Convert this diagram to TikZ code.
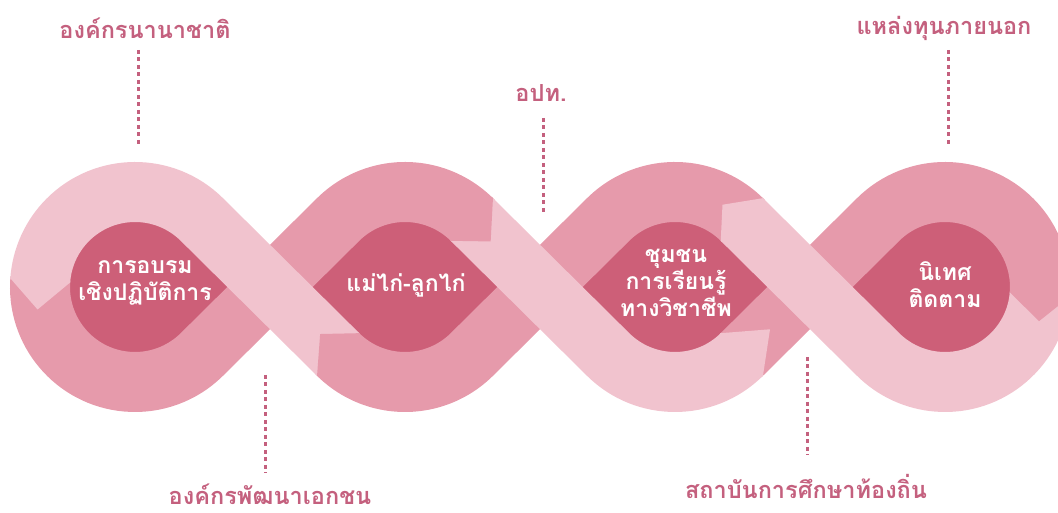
\documentclass[tikz,border=0pt]{standalone}
\usepackage{fontspec}
\newfontfamily\thai[Script=Thai]{Loma}
\definecolor{lightp}{HTML}{F1C3CE}
\definecolor{midp}{HTML}{E69AAB}
\definecolor{darkp}{HTML}{CD5F78}
\definecolor{rose}{HTML}{C4607E}
% #1 centre, #2 body end angle, #3 back angle, #4 apex angle, #5 apex radius, #6 colour
\newcommand\ribtip[6]{\fill[#6] ([shift={(#3:125)}]#1) -- ([shift={(#2:125)}]#1) -- ([shift={(#4:#5)}]#1) -- ([shift={(#2:65)}]#1) -- ([shift={(#3:65)}]#1) -- cycle;}
\begin{document}
\begin{tikzpicture}[x=1pt,y=1pt,
  band/.style={line width=60pt, line cap=butt},
  lightband/.style={band, draw=lightp},
  midband/.style={band, draw=midp},
  dots/.style={draw=rose, line width=3pt, dash pattern=on 4pt off 3.5pt},
  outlabel/.style={text=rose, font=\thai\fontsize{23.5}{26}\selectfont\bfseries, inner sep=0pt},
  inlabel/.style={text=white, font=\thai\fontsize{23}{27}\selectfont\bfseries, align=center, inner sep=0pt}]
\useasboundingbox (0,0) rectangle (1058,513);
\clip (0,0) rectangle (1058,513);
\coordinate (c1) at (135,226);
\coordinate (c2) at (405,226);
\coordinate (c3) at (675,226);
\coordinate (c4) at (945,226);
% dark holes
\fill[darkp] (135,188) rectangle (945,264);
\foreach \c in {c1,c2,c3,c4} \fill[darkp] (\c) circle[radius=72];
% medium bodies
\draw[midband] ([shift={(175:95)}]c1) arc[start angle=175,end angle=314.72,radius=95] -- (338.15,293.5) arc[start angle=134.72,end angle=44,radius=95];
\draw[midband] (740.4,157.1) -- (878.15,293.5) arc[start angle=134.72,end angle=-5.5,radius=95];
\draw[midband] ([shift={(44:95)}]c3) arc[start angle=44,end angle=134.72,radius=95] -- (471.85,158.5) arc[start angle=314.72,end angle=224,radius=95];
% light bodies
\draw[lightband] (338.15,158.5) -- (201.85,293.5) arc[start angle=45.28,end angle=176,radius=95];
\draw[lightband] (471.85,293.5) -- (608.15,158.5) arc[start angle=225.28,end angle=314.72,radius=95];
\draw[lightband] ([shift={(-4.5:95)}]c4) arc[start angle=-4.5,end angle=-134.72,radius=95] -- (741.85,293.5);
% arrow tips
\ribtip{c1}{176}{175}{193}{100}{lightp}
\ribtip{c2}{45.28}{46.3}{28}{97}{midp}
\ribtip{c3}{314.72}{313.7}{336}{104}{lightp}
\ribtip{c4}{355.5}{356.5}{340}{100}{midp}
\ribtip{c3}{45.28}{44.3}{60}{95}{lightp}
\ribtip{c2}{225.28}{226.3}{209}{97}{midp}
% inner labels
\node[inlabel] (n1) at (145,230) {การอบรม\\เชิงปฏิบัติการ};
\node[inlabel] (n2) at (406,228) {แม่ไก่-ลูกไก่};
\node[inlabel] (n3) at (676,230) {ชุมชน\\การเรียนรู้\\ทางวิชาชีพ};
\node[inlabel] (n4) at (945,228) {นิเทศ\\ติดตาม};
% outer labels
\node[outlabel] (o1) at (145,485) {องค์กรนานาชาติ};
\node[outlabel] (o2) at (944,485) {แหล่งทุนภายนอก};
\node[outlabel] (o3) at (541,420) {อปท.};
\node[outlabel] (o4) at (270,19) {องค์กรพัฒนาเอกชน};
\node[outlabel] (o5) at (806,27) {สถาบันการศึกษาท้องถิ่น};
% dotted connectors
\coordinate (d1a) at (138,463); \coordinate (d1b) at (138,366);
\coordinate (d2a) at (948,463); \coordinate (d2b) at (948,366);
\coordinate (d3a) at (543,395); \coordinate (d3b) at (543,301);
\coordinate (d4a) at (265,138); \coordinate (d4b) at (265,40);
\coordinate (d5a) at (807,156); \coordinate (d5b) at (807,58);
\draw[dots] (d1a) -- (d1b);
\draw[dots] (d2a) -- (d2b);
\draw[dots] (d3a) -- (d3b);
\draw[dots] (d4a) -- (d4b);
\draw[dots] (d5a) -- (d5b);
\end{tikzpicture}
\end{document}
